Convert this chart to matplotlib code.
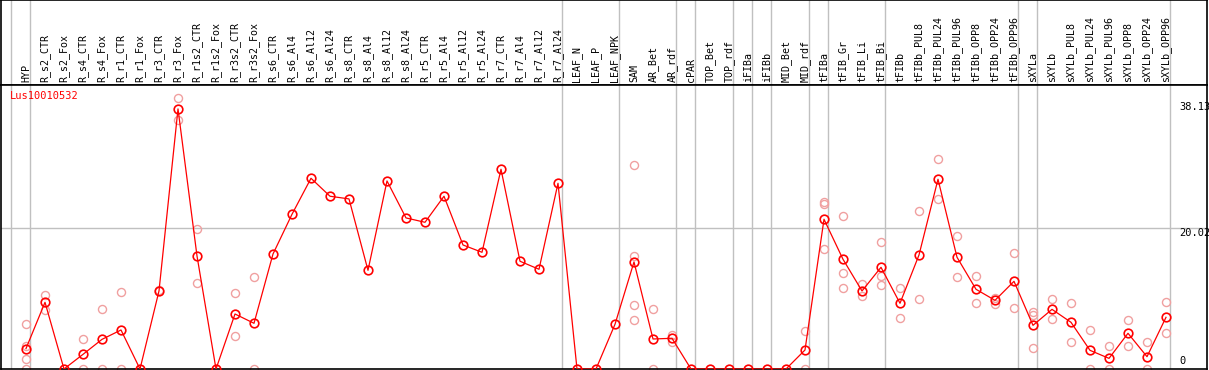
import numpy as np
import matplotlib
matplotlib.use("Agg")
import matplotlib.pyplot as plt

labels = ["HYP", "R_s2_CTR", "R_s2_Fox", "R_s4_CTR", "R_s4_Fox", "R_r1_CTR",
          "R_r1_Fox", "R_r3_CTR", "R_r3_Fox", "R_r1s2_CTR", "R_r1s2_Fox",
          "R_r3s2_CTR", "R_r3s2_Fox", "R_s6_CTR", "R_s6_Al4", "R_s6_Al12",
          "R_s6_Al24", "R_s8_CTR", "R_s8_Al4", "R_s8_Al12", "R_s8_Al24",
          "R_r5_CTR", "R_r5_Al4", "R_r5_Al12", "R_r5_Al24", "R_r7_CTR",
          "R_r7_Al4", "R_r7_Al12", "R_r7_Al24", "LEAF_N", "LEAF_P", "LEAF_NPK",
          "SAM", "AR_Bet", "AR_rdf", "cPAR", "TOP_Bet", "TOP_rdf", "iFIBa",
          "iFIBb", "MID_Bet", "MID_rdf", "tFIBa", "tFIB_Gr", "tFIB_Li",
          "tFIB_Bi", "tFIBb", "tFIBb_PUL8", "tFIBb_PUL24", "tFIBb_PUL96",
          "tFIBb_OPP8", "tFIBb_OPP24", "tFIBb_OPP96", "sXYLa", "sXYLb",
          "sXYLb_PUL8", "sXYLb_PUL24", "sXYLb_PUL96", "sXYLb_OPP8",
          "sXYLb_OPP24", "sXYLb_OPP96"]

means = [2.9, 9.47, 0, 2.08, 4.21, 5.54, 0, 11.08, 36.93, 16.05, 0,
         7.81, 6.49, 16.33, 21.97, 27.08, 24.53, 24.15, 14.01, 26.7, 21.45,
         20.83, 24.53, 17.61, 16.57, 28.36, 15.3, 14.16, 26.37, 0, 0, 6.35,
         15.2, 4.26, 4.36, 0, 0, 0, 0, 0, 0, 2.7, 21.26, 15.58, 11.08,
         14.44, 9.33, 16.19, 26.94, 15.87, 11.32, 9.75, 12.45, 6.2, 8.47,
         6.63, 2.65, 1.51, 5.07, 1.75, 7.34]

replicates = [[6.35, 3.27, 1.37, 0], [10.46, 8.38], [], [4.21, 0], [8.47, 0],
              [11.0, 0], [], [11.2], [38.45, 35.37], [19.84, 12.17], [],
              [10.75, 4.74], [13.02, 0], [], [], [], [], [], [], [], [],
              [], [], [], [], [], [], [], [], [], [], [],
              [28.93, 16.05, 9.04, 6.96], [8.47, 0], [4.83, 3.79], [], [], [],
              [], [], [], [5.4, 0], [23.48, 23.7, 17.05],
              [21.69, 13.59, 11.46], [12.03, 10.41], [18.0, 13.25, 11.89],
              [11.46, 7.2], [22.4, 9.9], [29.78, 24.1], [18.85, 13.02],
              [13.16, 9.33], [10.13, 9.28], [16.48, 8.62],
              [8.14, 7.62, 2.93], [9.9, 7.06], [9.33, 3.79], [5.54, 0],
              [3.22, 0], [6.91, 3.31], [3.79, 0], [9.47, 5.07]]

group_ends = [-1, 0, 28, 31, 34, 35, 37, 38, 39, 41, 42, 45, 52, 53, 60]
y_max = 38.13
y_mid = 20.02
gene = "Lus10010532"

W, H = 1209, 370
fig = plt.figure(figsize=(W / 100, H / 100), dpi=100)
mono = "DejaVu Sans Mono"

x0, x1 = 1, 1207
xlim = ((x0 - 26) / 19, (x1 - 26) / 19)
sep = np.array(group_ends) + 4 / 19

# header with column names
hax = fig.add_axes([x0 / W, (H - 85) / H, (x1 - x0) / W, 85 / H])
hax.set_xlim(*xlim)
hax.set_ylim(0, 1)
for s in sep:
    hax.axvline(s, color="#c0c0c0", lw=1)
for i, lab in enumerate(labels):
    hax.text(i, 3 / 85, lab, rotation=90, ha="center", va="bottom",
             fontsize=7.2, family=mono, color="black")
hax.set_xticks([])
hax.set_yticks([])
for sp in hax.spines.values():
    sp.set_color("black")
    sp.set_linewidth(1.2)

# plot area
ax = fig.add_axes([x0 / W, 1 / H, (x1 - x0) / W, 284 / H])
ax.set_xlim(*xlim)
ax.set_ylim(0, 284 / 7.043)
for s in sep:
    ax.axvline(s, color="#c0c0c0", lw=1, zorder=1)
ax.axhline(y_mid, color="#c0c0c0", lw=1, zorder=1)

rx = [i for i, r in enumerate(replicates) for _ in r]
ry = [v for r in replicates for v in r]
ax.plot(rx, ry, "o", ms=5.8, mfc="none", mec="#f0a0a0", mew=1.0, zorder=2)
ax.plot(np.arange(len(means)), means, "-", color="#ff0000", lw=0.9, zorder=3)
ax.plot(np.arange(len(means)), means, "o", ms=6.2, mfc="none", mec="#ff0000",
        mew=1.2, zorder=4)

ax.text((10 - 26) / 19, 284 / 7.043 - 6 / 7.043, gene, color="#ff0000",
        fontsize=7.5, family=mono, ha="left", va="top")
lx = (1179 - 26) / 19
ax.text(lx, y_max - 1.5 / 7.043, f"{y_max:.2f}", fontsize=7.5, family=mono,
        ha="left", va="top")
ax.text(lx, y_mid - 0.5 / 7.043, f"{y_mid:.2f}", fontsize=7.5, family=mono,
        ha="left", va="top")
ax.text(lx, 3 / 7.043, "0", fontsize=7.5, family=mono, ha="left", va="bottom")

ax.set_xticks([])
ax.set_yticks([])
for sp in ax.spines.values():
    sp.set_color("black")
    sp.set_linewidth(1.2)

fig.savefig("out.png", dpi=100)
